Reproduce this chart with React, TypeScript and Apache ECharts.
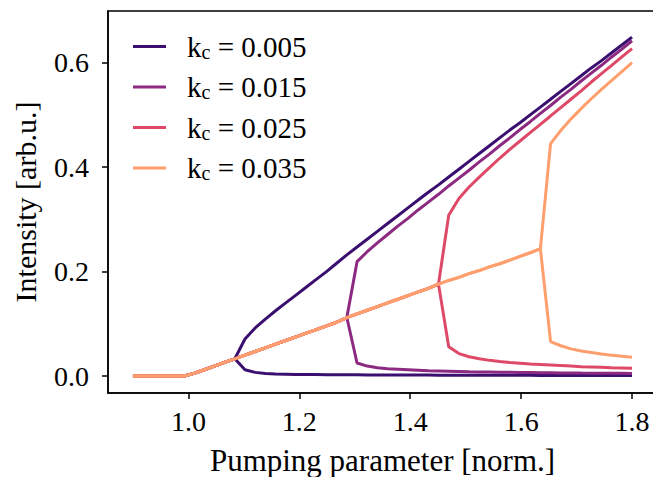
import React, { useEffect, useRef } from "react";
import * as echarts from "echarts";

// Pumping parameter samples (50 points from 0.9 to 1.8)
const pumping = [
  0.9, 0.9184, 0.9367, 0.9551, 0.9735, 0.9918, 1.0102, 1.0286, 1.0469, 1.0653,
  1.0837, 1.102, 1.1204, 1.1388, 1.1571, 1.1755, 1.1939, 1.2122, 1.2306, 1.249,
  1.2673, 1.2857, 1.3041, 1.3224, 1.3408, 1.3592, 1.3776, 1.3959, 1.4143, 1.4327,
  1.451, 1.4694, 1.4878, 1.5061, 1.5245, 1.5429, 1.5612, 1.5796, 1.598, 1.6163,
  1.6347, 1.6531, 1.6714, 1.6898, 1.7082, 1.7265, 1.7449, 1.7633, 1.7816, 1.8,
];

// Shared rising branch (indices 0..40)
const sharedRise = [
  0, 0, 0, 0, 0, 0, 0.005, 0.012, 0.019, 0.026,
  0.033, 0.04, 0.047, 0.054, 0.061, 0.068, 0.075, 0.082, 0.089, 0.096,
  0.103, 0.112, 0.119, 0.126, 0.133, 0.14, 0.147, 0.154, 0.161, 0.168,
  0.176, 0.183, 0.189, 0.196, 0.202, 0.209, 0.215, 0.222, 0.229, 0.236,
  0.244,
];

// k_c = 0.005 : branches after index 10
const k005Upper = [
  0.071, 0.092, 0.109, 0.125, 0.14, 0.155, 0.17, 0.185, 0.2, 0.216,
  0.232, 0.247, 0.262, 0.277, 0.292, 0.307, 0.322, 0.337, 0.352, 0.366,
  0.381, 0.396, 0.411, 0.426, 0.441, 0.456, 0.471, 0.485, 0.5, 0.515,
  0.53, 0.545, 0.56, 0.575, 0.59, 0.604, 0.619, 0.634, 0.649,
];
const k005Lower = [
  0.012, 0.007, 0.005, 0.004, 0.0035, 0.003, 0.003, 0.0028, 0.0026, 0.0025,
  0.0024, 0.0023, 0.0022, 0.0021, 0.002, 0.002, 0.0019, 0.0018, 0.0018, 0.0017,
  0.0016, 0.0016, 0.0015, 0.0015, 0.0014, 0.0014, 0.0013, 0.0013, 0.0013, 0.0012,
  0.0012, 0.0012, 0.0011, 0.0011, 0.0011, 0.001, 0.001, 0.001, 0.001,
];

// k_c = 0.015 : branches after index 21
const k015Upper = [
  0.219, 0.238, 0.255, 0.271, 0.287, 0.302, 0.318, 0.333, 0.348, 0.364,
  0.379, 0.394, 0.41, 0.425, 0.441, 0.456, 0.472, 0.487, 0.503, 0.518,
  0.534, 0.549, 0.565, 0.58, 0.595, 0.611, 0.626, 0.642,
];
const k015Lower = [
  0.025, 0.019, 0.016, 0.014, 0.013, 0.012, 0.011, 0.01, 0.0095, 0.009,
  0.0085, 0.008, 0.0078, 0.0075, 0.0072, 0.007, 0.0068, 0.0066, 0.0064, 0.0062,
  0.006, 0.0058, 0.0056, 0.0055, 0.0054, 0.0053, 0.0052, 0.005,
];

// k_c = 0.025 : branches after index 30
const k025Upper = [
  0.308, 0.34, 0.362, 0.381, 0.399, 0.417, 0.434, 0.45, 0.466, 0.482,
  0.498, 0.514, 0.53, 0.546, 0.563, 0.579, 0.595, 0.611, 0.627,
];
const k025Lower = [
  0.056, 0.043, 0.037, 0.033, 0.03, 0.028, 0.026, 0.0245, 0.023, 0.022,
  0.021, 0.02, 0.019, 0.018, 0.0175, 0.017, 0.016, 0.0155, 0.015,
];

// k_c = 0.035 : branches after index 40
const k035Upper = [0.445, 0.47, 0.492, 0.512, 0.531, 0.549, 0.566, 0.583, 0.6];
const k035Lower = [0.066, 0.058, 0.052, 0.048, 0.045, 0.042, 0.04, 0.038, 0.036];

const kcLabels = ["0.005", "0.015", "0.025", "0.035"];
const splitIndex = [10, 21, 30, 40];
const upperBranches = [k005Upper, k015Upper, k025Upper, k035Upper];
const lowerBranches = [k005Lower, k015Lower, k025Lower, k035Lower];
const colors = ["#3b0f70", "#8c2981", "#de4968", "#fe9f6d"];

const xTicks = [1.0, 1.2, 1.4, 1.6, 1.8];
const yTicks = [0.0, 0.2, 0.4, 0.6];

const FONT = "Liberation Serif";

export default function App() {
  const ref = useRef<HTMLDivElement>(null);

  useEffect(() => {
    if (!ref.current) return;
    const chart = echarts.init(ref.current, undefined, { renderer: "svg" });

    const series: any[] = [];
    kcLabels.forEach((kc, i) => {
      const s = splitIndex[i];
      const name = "kc = " + kc;
      const up = sharedRise.slice(0, s + 1).concat(upperBranches[i]);
      const lo = sharedRise.slice(0, s + 1).concat(lowerBranches[i]);
      [up, lo].forEach((arr) => {
        series.push({
          type: "line",
          name,
          data: arr.map((y, j) => [pumping[j], y]),
          symbol: "none",
          showSymbol: false,
          smooth: false,
          color: colors[i],
          lineStyle: { color: colors[i], width: 3 },
          emphasis: { disabled: true },
        });
      });
    });

    const tickText = {
      fontFamily: FONT,
      fontSize: 28,
      color: "#000",
    };

    const option: any = {
      animation: false,
      backgroundColor: "#fff",
      textStyle: { fontFamily: FONT, color: "#000" },
      grid: {
        left: 108,
        top: 11,
        width: 549,
        height: 382,
        show: true,
        borderColor: "#000",
        borderWidth: 1.5,
        containLabel: false,
        outerBoundsMode: "none",
      },
      legend: {
        data: kcLabels.map((kc) => "kc = " + kc),
        orient: "vertical",
        left: 128,
        top: 27,
        icon: "rect",
        itemWidth: 33,
        itemHeight: 3,
        itemGap: 11,
        selectedMode: false,
        formatter: (name: string) => {
          const v = name.split("= ")[1];
          return "{k|k}{c|c}{k| = " + v + "}";
        },
        textStyle: {
          color: "#000",
          fontFamily: FONT,
          fontSize: 29,
          padding: [0, 0, 0, 16],
          rich: {
            k: { fontFamily: FONT, fontSize: 29, lineHeight: 30, color: "#000" },
            c: {
              fontFamily: FONT,
              fontSize: 20,
              lineHeight: 8,
              color: "#000",
              verticalAlign: "bottom",
            },
          },
        },
      },
      xAxis: {
        type: "value",
        min: 0.855,
        max: 1.845,
        name: "Pumping parameter [norm.]",
        nameLocation: "middle",
        nameGap: 52,
        nameTextStyle: { fontFamily: FONT, fontSize: 31, color: "#000" },
        splitLine: { show: false },
        axisLine: { show: true, onZero: false, lineStyle: { color: "#000", width: 1.5 } },
        axisTick: {
          show: true,
          inside: false,
          length: 6,
          customValues: xTicks,
          lineStyle: { color: "#000", width: 1.5 },
        },
        axisLabel: {
          customValues: xTicks,
          formatter: (v: number) => v.toFixed(1),
          ...tickText,
          margin: 14,
        },
      },
      yAxis: {
        type: "value",
        min: -0.0325,
        max: 0.699,
        name: "Intensity [arb.u.]",
        nameLocation: "middle",
        nameGap: 68,
        nameRotate: 90,
        nameTextStyle: { fontFamily: FONT, fontSize: 30, color: "#000" },
        splitLine: { show: false },
        axisLine: { show: true, onZero: false, lineStyle: { color: "#000", width: 1.5 } },
        axisTick: {
          show: true,
          inside: false,
          length: 6,
          customValues: yTicks,
          lineStyle: { color: "#000", width: 1.5 },
        },
        axisLabel: {
          customValues: yTicks,
          formatter: (v: number) => v.toFixed(1),
          ...tickText,
          margin: 19,
        },
      },
      series,
    };

    chart.setOption(option);
    return () => chart.dispose();
  }, []);

  return (
    <div
      ref={ref}
      style={{ position: "absolute", left: 0, top: 0, width: 653, height: 477 }}
    />
  );
}
